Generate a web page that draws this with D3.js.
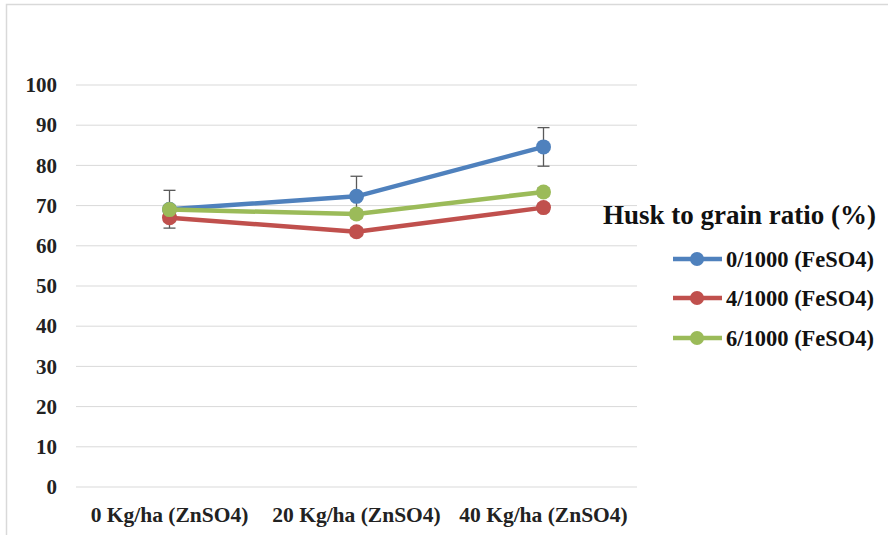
<!DOCTYPE html>
<html><head><meta charset="utf-8">
<script src="https://cdn.jsdelivr.net/npm/d3@7"></script>
<style>body{margin:0;background:#fff}svg{display:block}</style>
</head><body><svg id="c" width="888" height="535"></svg>
<script>
const categories = ["0 Kg/ha (ZnSO4)", "20 Kg/ha (ZnSO4)", "40 Kg/ha (ZnSO4)"];
const seriesNames = ["0/1000 (FeSO4)", "4/1000 (FeSO4)", "6/1000 (FeSO4)"];
const s0 = [69.1, 72.3, 84.6];
const s1 = [67.0, 63.5, 69.5];
const s2 = [69.0, 67.9, 73.4];
const e0 = [4.7, 5.0, 4.8];
const e1 = [1.0, 1.0, 1.0];
const e2 = [1.0, 1.0, 1.0];
const yTicks = [0, 10, 20, 30, 40, 50, 60, 70, 80, 90, 100];
const legendTitle = "Husk to grain ratio (%)";
const colors = ["#4F81BD", "#C0504D", "#9BBB59"];

const series = [s0, s1, s2].map((v, i) => ({ name: seriesNames[i], values: v, err: [e0, e1, e2][i], color: colors[i] }));

const svg = d3.select("#c");
const font = "'Liberation Serif','Times New Roman',serif";
svg.append("path").attr("d", "M6.5,535 V4.5 H888").attr("fill", "none").attr("stroke", "#d9d9d9").attr("stroke-width", 1.5);

const x = d3.scaleBand().domain(categories).range([76, 637]);
const y = d3.scaleLinear().domain([0, 100]).range([487, 85]);

svg.append("g").selectAll("line").data(yTicks).join("line")
  .attr("x1", 76).attr("x2", 637).attr("y1", d => y(d)).attr("y2", d => y(d))
  .attr("stroke", "#d9d9d9").attr("stroke-width", 1);

const yAxis = svg.append("g").attr("transform", "translate(76,0)")
  .call(d3.axisLeft(y).tickValues(yTicks).tickSize(0).tickPadding(19));
yAxis.select(".domain").remove();
yAxis.attr("font-family", font);
yAxis.selectAll("text").attr("font-family", font).attr("font-weight", "bold").attr("font-size", 21).attr("fill", "#222");

const xAxis = svg.append("g").attr("transform", "translate(0,487)")
  .call(d3.axisBottom(x).tickSize(0).tickPadding(20));
xAxis.select(".domain").remove();
xAxis.attr("font-family", font);
xAxis.selectAll("text").attr("font-family", font).attr("font-weight", "bold").attr("font-size", 21.5).attr("fill", "#222");

const cx = c => x(c) + x.bandwidth() / 2;
const line = d3.line().x((d, i) => cx(categories[i])).y(d => y(d));

series.forEach(s => {
  const g = svg.append("g").attr("stroke", "#595959").attr("stroke-width", 1.3);
  s.values.forEach((v, i) => {
    const px = cx(categories[i]);
    g.append("line").attr("x1", px).attr("x2", px).attr("y1", y(v + s.err[i])).attr("y2", y(v - s.err[i]));
    [v + s.err[i], v - s.err[i]].forEach(t => g.append("line").attr("x1", px - 6).attr("x2", px + 6).attr("y1", y(t)).attr("y2", y(t)));
  });
});

series.forEach(s => {
  svg.append("path").datum(s.values).attr("d", line).attr("fill", "none").attr("stroke", s.color).attr("stroke-width", 4.5).attr("stroke-linejoin", "round");
  svg.append("g").selectAll("circle").data(s.values).join("circle")
    .attr("cx", (d, i) => cx(categories[i])).attr("cy", d => y(d)).attr("r", 7.5).attr("fill", s.color);
});

svg.append("text").attr("x", 603).attr("y", 224).text(legendTitle)
  .attr("font-family", font).attr("font-weight", "bold").attr("font-size", 27).attr("fill", "#111");
const ly = [259, 298, 338];
series.forEach((s, i) => {
  svg.append("line").attr("x1", 673).attr("x2", 722).attr("y1", ly[i]).attr("y2", ly[i]).attr("stroke", s.color).attr("stroke-width", 4.5);
  svg.append("circle").attr("cx", 697).attr("cy", ly[i]).attr("r", 7).attr("fill", s.color);
  svg.append("text").attr("x", 726).attr("y", ly[i]).attr("dy", "0.35em").text(s.name)
    .attr("font-family", font).attr("font-weight", "bold").attr("font-size", 22.5).attr("fill", "#111");
});
</script></body></html>
